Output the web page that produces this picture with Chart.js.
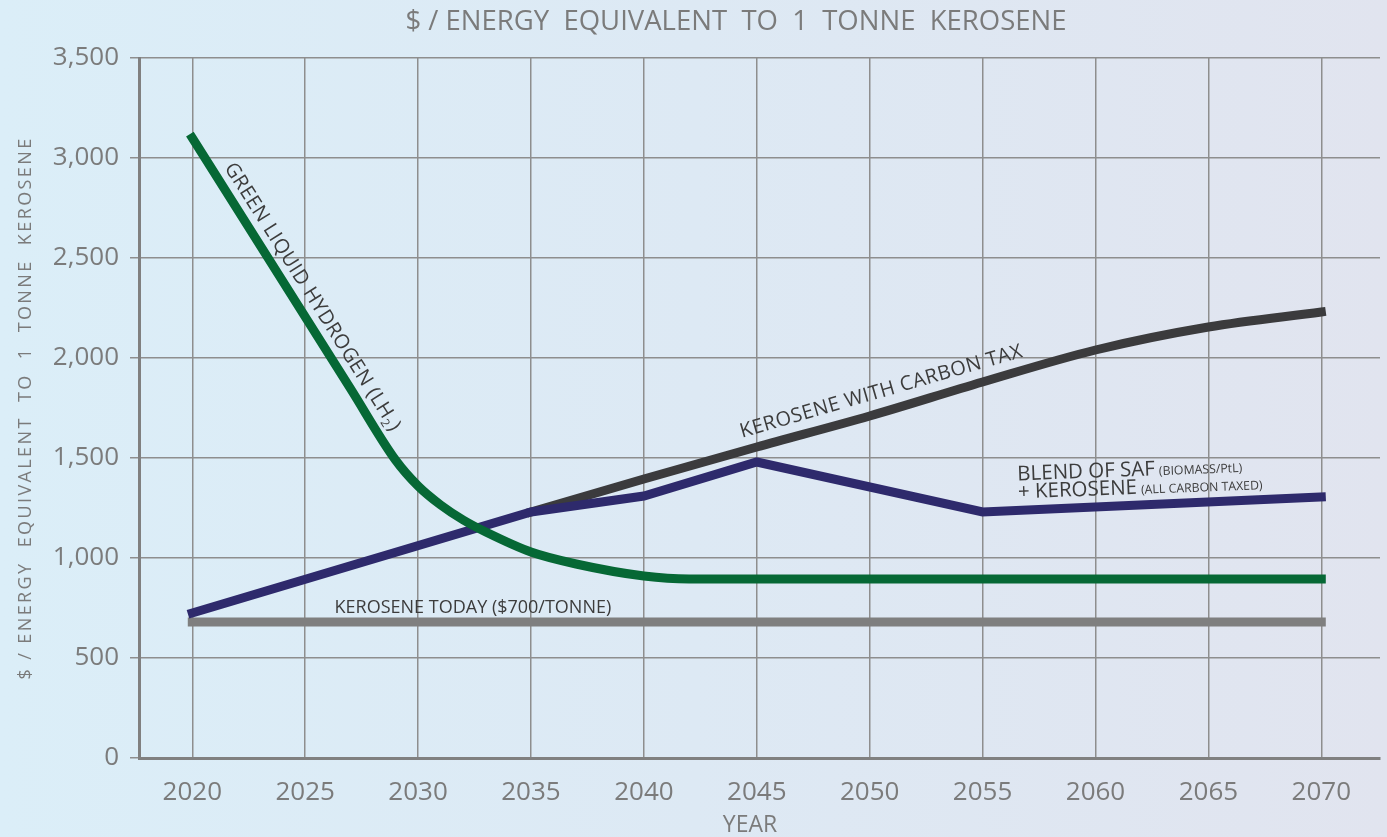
<!DOCTYPE html>
<html>
<head>
<meta charset="utf-8">
<script src="https://cdn.jsdelivr.net/npm/chart.js@4"></script>
<style>
  html, body { margin:0; padding:0; }
  body { width:1387px; height:837px; background:linear-gradient(90deg,#dbeef8 0%,#dde9f4 50%,#e1e4ef 100%); }
  #costChart { display:block; }
</style>
</head>
<body>
<canvas id="costChart" width="1387" height="837"></canvas>
<script>
// x ticks (years) and y ticks
const yearTicks = [2020,2025,2030,2035,2040,2045,2050,2055,2060,2065,2070];
const costTicks = [0,500,1000,1500,2000,2500,3000,3500];

// green liquid hydrogen (LH2)
const hydrogenYears = [2020,2027,2029,2030,2031,2032,2033,2035,2037,2040,2042,2070];
const hydrogenCost  = [3100,1848,1490,1360,1265,1190,1130,1030,970,910,895,895];

// blend of SAF + kerosene
const blendYears = [2020,2035,2040,2045,2055,2070];
const blendCost  = [725,1230,1310,1480,1230,1305];

// kerosene with carbon tax
const taxYears = [2035,2040,2045,2050,2055,2060,2065,2070];
const taxCost  = [1230,1395,1555,1710,1880,2040,2155,2230];

// kerosene today
const todayYears = [2020,2070];
const todayCost  = [680,680];

const TITLE = '$ / ENERGY  EQUIVALENT  TO  1  TONNE  KEROSENE';
const FONT = "'Open Sans', 'DejaVu Sans', sans-serif";
const GRID = '#8e8e8e';
const TXT = '#7b7b7b';
const LABEL = '#3c3c3c';

const pts = (xs, ys) => xs.map((v,i)=>({x:v, y:ys[i]}));

// linear value of a series at a year
function valueAt(xs, ys, yr){
  for(let i=0;i<xs.length-1;i++){
    if(yr>=xs[i] && yr<=xs[i+1]){
      const t=(yr-xs[i])/(xs[i+1]-xs[i]);
      return ys[i]+t*(ys[i+1]-ys[i]);
    }
  }
  return ys[ys.length-1];
}

// labels drawn along the lines + titles
const lineLabels = {
  id:'lineLabels',
  afterDatasetsDraw(chart){
    const {ctx, chartArea, scales:{x,y}} = chart;
    const px = (yr,v)=>({x:x.getPixelForValue(yr), y:y.getPixelForValue(v)});
    const ang = (a,b)=>Math.atan2(b.y-a.y, b.x-a.x);
    ctx.save();
    ctx.fillStyle = LABEL;
    ctx.textBaseline = 'alphabetic';
    ctx.textAlign = 'left';

    // green hydrogen
    let a = px(hydrogenYears[0],hydrogenCost[0]);
    let b = px(hydrogenYears[2],hydrogenCost[2]);
    ctx.save();
    ctx.translate(a.x,a.y);
    ctx.rotate(ang(a,b));
    ctx.letterSpacing = '0.5px';
    ctx.font = '20px '+FONT;
    let s = 'GREEN LIQUID HYDROGEN (LH';
    ctx.fillText(s, 42, -11);
    let w = ctx.measureText(s).width;
    ctx.font = '12px '+FONT;
    ctx.fillText('2', 42+w, -7);
    let w2 = ctx.measureText('2').width;
    ctx.font = '20px '+FONT;
    ctx.fillText(')', 42+w+w2+1, -11);
    ctx.restore();

    // kerosene with carbon tax
    const ty = 2044.5;
    a = px(ty, valueAt(taxYears,taxCost,ty));
    b = px(2055, valueAt(taxYears,taxCost,2055));
    let c = px(2045, valueAt(taxYears,taxCost,2045));
    ctx.save();
    ctx.translate(a.x,a.y);
    ctx.rotate(ang(c,b));
    ctx.letterSpacing = '0.5px';
    ctx.font = '20px '+FONT;
    ctx.fillText('KEROSENE WITH CARBON TAX', 0, -13);
    ctx.restore();

    // blend label
    const by = 2056.6;
    a = px(by, valueAt(blendYears,blendCost,by));
    b = px(2070, valueAt(blendYears,blendCost,2070));
    c = px(2055, valueAt(blendYears,blendCost,2055));
    ctx.save();
    ctx.translate(a.x,a.y);
    ctx.rotate(ang(c,b)*0.85);
    const twoPart = (big, small, dy)=>{
      ctx.font = '20.5px '+FONT;
      ctx.fillText(big, 0, dy);
      const bw = ctx.measureText(big).width;
      ctx.font = '12.3px '+FONT;
      ctx.fillText(small, bw+4, dy);
    };
    twoPart('BLEND OF SAF', '(BIOMASS/PtL)', -30);
    twoPart('+ KEROSENE', '(ALL CARBON TAXED)', -12);
    ctx.restore();

    // kerosene today
    a = px(2026.3, todayCost[0]);
    ctx.font = '18px '+FONT;
    ctx.fillText('KEROSENE TODAY ($700/TONNE)', a.x, a.y-9);

    // chart title and axis titles
    ctx.fillStyle = TXT;
    ctx.textAlign = 'center';
    ctx.textBaseline = 'middle';
    ctx.font = '27.5px '+FONT;
    ctx.fillText(TITLE, 736, 22);

    ctx.font = '23px '+FONT;
    ctx.fillText('YEAR', x.getPixelForValue(2044.7), 825);

    ctx.save();
    ctx.translate(26, (chartArea.top+chartArea.bottom)/2);
    ctx.rotate(-Math.PI/2);
    ctx.letterSpacing = '2.4px';
    ctx.font = '18px '+FONT;
    ctx.fillText(TITLE, 0, 0);
    ctx.restore();

    ctx.restore();
  }
};

const lineStyle = {pointRadius:0, borderWidth:9, borderCapStyle:'square', fill:false};

new Chart(document.getElementById('costChart'), {
  type:'line',
  data:{
    datasets:[
      {...lineStyle, label:'Green liquid hydrogen (LH2)', data:pts(hydrogenYears,hydrogenCost), borderColor:'#066835', cubicInterpolationMode:'monotone'},
      {...lineStyle, label:'Blend of SAF + kerosene', data:pts(blendYears,blendCost), borderColor:'#2e2a6c', tension:0},
      {...lineStyle, label:'Kerosene with carbon tax', data:pts(taxYears,taxCost), borderColor:'#3b3b3d', cubicInterpolationMode:'monotone'},
      {...lineStyle, label:'Kerosene today', data:pts(todayYears,todayCost), borderColor:'#7f7f7f', tension:0}
    ]
  },
  options:{
    responsive:false,
    animation:false,
    layout:{padding:{left:0, right:7, top:58, bottom:0}},
    plugins:{
      legend:{display:false},
      tooltip:{enabled:false},
      title:{display:false}
    },
    scales:{
      x:{
        type:'linear',
        min:2017.64, max:2072.6,
        afterBuildTicks:(s)=>{ s.ticks = yearTicks.map(v=>({value:v})); },
        afterFit:(s)=>{ s.height = 79; },
        grid:{color:GRID, lineWidth:1.5, drawTicks:false},
        border:{display:true, color:'#808080', width:3},
        ticks:{color:TXT, font:{family:FONT, size:26}, padding:19, maxRotation:0, callback:(v)=>String(v)}
      },
      y:{
        min:0, max:3500,
        afterBuildTicks:(s)=>{ s.ticks = costTicks.map(v=>({value:v})); },
        afterFit:(s)=>{ s.width = 139; },
        grid:{color:GRID, lineWidth:1.5, tickLength:9, tickColor:GRID},
        border:{display:true, color:'#808080', width:3},
        ticks:{color:TXT, font:{family:FONT, size:26}, padding:11}
      }
    }
  },
  plugins:[lineLabels]
});
</script>
</body>
</html>
